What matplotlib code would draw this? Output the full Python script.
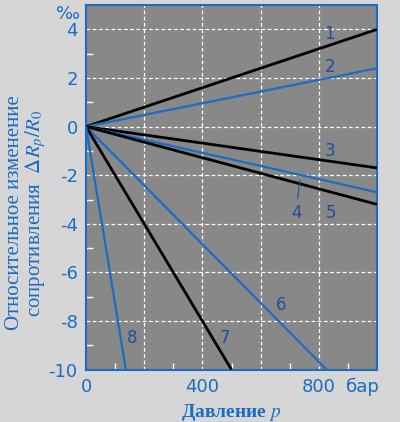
import numpy as np
import matplotlib.pyplot as plt
from matplotlib.ticker import FixedLocator

plt.rcParams['mathtext.fontset'] = 'stix'

BLUE = '#1a6cc4'
# кривые: номер, давление в конце, значение в конце (‰), цвет
line_ids = ['1', '2', '3', '4', '5', '6', '7', '8']
end_p = [1000, 1000, 1000, 1000, 1000, 827, 500, 137]
end_dr = [4.0, 2.4, -1.7, -2.7, -3.2, -10.0, -10.0, -10.0]
line_colors = ['black', BLUE, 'black', BLUE, 'black', BLUE, 'black', BLUE]
label_p = [835, 838, 838, 725, 842, 670, 478, 160]
label_dr = [3.8, 2.45, -1.0, -3.55, -3.55, -7.35, -8.7, -8.7]

x_ticks = [0, 400, 800]
y_ticks = [4, 2, 0, -2, -4, -6, -8, -10]

fig = plt.figure(figsize=(4.0, 4.22), dpi=100, facecolor='#d6d6d6')
ax = fig.add_axes([0.215, 0.124, 0.7275, 0.864])
ax.set_facecolor('#888888')

for i in range(len(line_ids)):
    lw = 2.0 if line_colors[i] == 'black' else 1.6
    ax.plot([0, end_p[i]], [0, end_dr[i]], color=line_colors[i], lw=lw,
            solid_capstyle='butt', zorder=3)
    ax.text(label_p[i], label_dr[i], line_ids[i], color='#1f4f9c', fontsize=12,
            ha='center', va='center', zorder=4)
# выноска к кривой 4
ax.plot([727, 735], [-2.95, -2.2], color='#1f4f9c', lw=0.8, zorder=4)

ax.set_xlim(0, 1000)
ax.set_ylim(-10, 5)

# сетка
for gx in [200, 400, 600, 800]:
    ax.axvline(gx, color='white', lw=0.9, ls=(0, (3, 2)), zorder=1)
for gy in [4, 2, 0, -2, -4, -6, -8]:
    ax.axhline(gy, color='white', lw=0.9, ls=(0, (3, 2)), zorder=1)

ax.xaxis.set_major_locator(FixedLocator(x_ticks))
ax.yaxis.set_major_locator(FixedLocator(y_ticks))
ax.xaxis.set_minor_locator(FixedLocator([100, 300, 500, 700, 900]))
ax.yaxis.set_minor_locator(FixedLocator([3, 1, -1, -3, -5, -7, -9]))
ax.tick_params(which='major', length=0, labelcolor=BLUE, labelsize=13)
ax.tick_params(axis='x', which='major', pad=6)
ax.tick_params(axis='y', which='major', pad=6)
ax.tick_params(which='minor', direction='in', length=5, color='white', width=1)
ax.set_yticklabels(['4', '2', '0', '-2', '-4', '-6', '-8', '-10'])

for s in ax.spines.values():
    s.set_color(BLUE)
    s.set_linewidth(1.5)

fig.text(0.17, 0.967, '‰', color=BLUE, fontsize=13, ha='center', va='center')
fig.text(0.908, 0.083, 'бар', color=BLUE, fontsize=13, ha='center', va='center')

ax.set_xlabel('Давление $\\it{p}$', color=BLUE, fontsize=14,
              family='Liberation Serif', fontweight='bold', labelpad=4)
ax.set_ylabel('Относительное изменение\nсопротивления  $\\Delta R_p/R_0$',
              color=BLUE, fontsize=15, family='Liberation Serif',
              linespacing=0.95)
ax.yaxis.set_label_coords(-0.13, 0.43)

fig.savefig('out.png', dpi=100, facecolor=fig.get_facecolor())
